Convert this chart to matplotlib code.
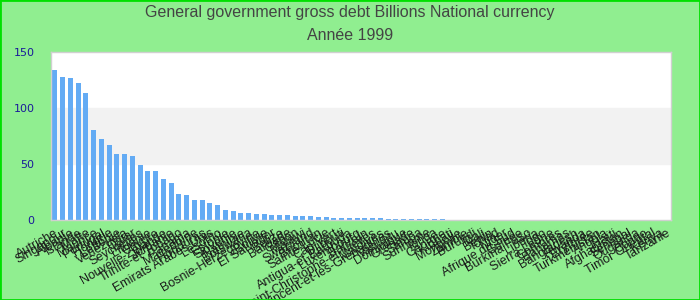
import matplotlib
matplotlib.use("Agg")
import matplotlib.pyplot as plt
from matplotlib.patches import Rectangle

countries = [
    "Autriche", "Singapour", "Albanie", "Islande", "Malte", "Maurice", "Portugal",
    "Hongrie", "Lettonie", "Venezuela", "Qatar", "Seychelles", "Lituanie", "Chypre",
    "Nouvelle-Zélande", "Jordanie", "Trinité-et-Tobago", "Panama", "Macédoine",
    "Honduras", "Emirats Arabes Unis", "Lesotho", "Estonie", "Slovénie", "Namibie",
    "Botswana", "Bosnie-Herzégovine", "Bolivie", "El Salvador", "Bélize", "Barbade",
    "Gabon", "Malawi", "Swaziland", "Bhoutan", "Sainte-Lucie", "Cap-Vert", "Djibouti",
    "Antigua-et-Barbuda", "Luxembourg", "Bahreïn", "Saint-Christophe-et-Niévès",
    "Maldives", "Saint-Vincent-et-les-Grenadines", "Vanuatu", "Dominique", "Grenade",
    "Samoa", "Suriname", "Tonga", "Géorgie", "Kiribati", "Mongolie", "Zambie",
    "Burundi", "Mali", "Bénin", "Tchad", "Niger", "Afrique du Sud", "Guinée",
    "Burkina Faso", "Liberia", "Togo", "Sierra Leone", "Comores", "Bahamas",
    "Bangladesh", "Rwanda", "Erythrée", "Turkménistan", "Angola", "Haïti",
    "Afghanistan", "Sénégal", "Ouganda", "Congo", "Timor Oriental", "Kenya", "Tanzanie",
]

debt = [
    133.9, 127.7, 126.8, 122.3, 113.4, 80.4, 72.3, 67.0, 58.9, 58.9,
    57.1, 49.1, 43.8, 43.8, 36.6, 33.0, 23.2, 22.3, 17.9, 17.9,
    15.2, 13.4, 8.9, 8.0, 6.3, 6.2, 5.4, 5.3, 4.6, 4.4,
    4.3, 3.7, 3.5, 3.4, 2.8, 2.6, 2.0, 1.9, 1.8, 1.8,
    1.7, 1.6, 1.5, 1.0, 0.9, 0.9, 0.8, 0.8, 0.7, 0.7,
    0.6, 0.15, 0.14, 0.13, 0.12, 0.11, 0.10, 0.09, 0.08, 0.07,
    0.06, 0.05, 0.05, 0.04, 0.04, 0.03, 0.03, 0.02, 0.02, 0.02,
    0.01, 0.01, 0.01, 0.01, 0.005, 0.005, 0.003, 0.002, 0.001, 0.001,
]

title_line1 = "General government gross debt Billions National currency"
title_line2 = "Année 1999"
yticks = [0, 50, 100, 150]

bg = "#90ee90"
fig = plt.figure(figsize=(7, 3), dpi=100, facecolor=bg)
ax = fig.add_axes([51 / 700, 1 - 220 / 300, 620 / 700, 168 / 300])
ax.set_facecolor("white")

# horizontal bands
ax.axhspan(50, 100, color="#f2f2f2", zorder=0)

x = list(range(len(countries)))
ax.bar(x, debt, width=0.64, color="#63abf4", zorder=2)

ax.set_xlim(-0.5, len(countries) - 0.5)
ax.set_ylim(0, 150)
ax.set_yticks(yticks)
ax.set_yticklabels([str(v) for v in yticks], color="#1a1a9a", fontsize=8,
                   family="DejaVu Sans")
ax.tick_params(axis="y", length=0, pad=12)
ax.set_xticks(x)
ax.set_xticklabels(countries, rotation=30, ha="right", rotation_mode="anchor",
                   fontsize=9, color="#1a1a1a", family="Liberation Sans")
ax.tick_params(axis="x", length=0, pad=5)

for s in ax.spines.values():
    s.set_color("#d0d0d0")
    s.set_linewidth(1)

fig.text(0.5, 1 - 13 / 300, title_line1, ha="center", va="center",
         fontsize=11.5, color="#444444", family="Liberation Sans")
fig.text(0.5, 1 - 36 / 300, title_line2, ha="center", va="center",
         fontsize=11.5, color="#444444", family="Liberation Sans")

# figure border
fig.patches.append(Rectangle((0, 0), 1, 1, transform=fig.transFigure,
                             fill=False, edgecolor="#00e000", linewidth=2))

fig.savefig("out.png", dpi=100, facecolor=bg)
